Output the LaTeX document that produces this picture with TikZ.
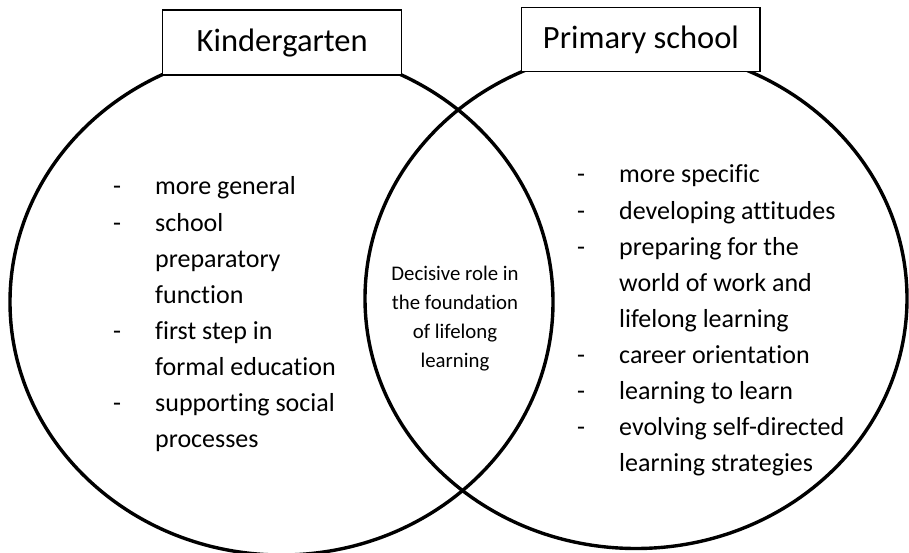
\documentclass[tikz,border=0pt]{standalone}
\usepackage{fontspec}
\setmainfont{Carlito}[Ligatures=NoCommon]
\usetikzlibrary{shapes.geometric}
\begin{document}
\begin{tikzpicture}[x=1pt,y=-1pt,
  ring/.style={draw, line width=3.4pt, ellipse, inner sep=0pt, outer sep=0pt},
  titlebox/.style={draw, fill=white, line width=1.3pt, inner sep=0pt,
    text height=24pt, text depth=5pt, font=\fontsize{32.5}{39}\selectfont},
  item/.style={anchor=base west, inner sep=0pt, font=\fontsize{26}{31}\selectfont},
  midtext/.style={anchor=base, inner sep=0pt, font=\fontsize{20.8}{25}\selectfont}]
\useasboundingbox (0,0) rectangle (909,553);
\node[ring, minimum width=543pt, minimum height=506pt] (kg) at (281.5,302) {};
\node[ring, minimum width=542pt, minimum height=500pt] (ps) at (636,298.5) {};
\node[titlebox, minimum width=239pt, minimum height=65pt] (kgtitle) at (282.2,42.5) {Kindergarten};
\node[titlebox, minimum width=238.3pt, minimum height=64.4pt] (pstitle) at (640.9,39.5) {Primary school};
% left list
\foreach \t [count=\i] in {more general,school,preparatory,function,first step in,formal education,supporting social,processes}
  \node[item] (kgi\i) at (155,{195+36.05*(\i-1)}) {\t};
\foreach \i in {1,2,5,7}
  \node[item] (kgd\i) at (113,{195+36.05*(\i-1)}) {-};
% right list
\foreach \t [count=\i] in {more specific,developing attitudes,preparing for the,world of work and,lifelong learning,career orientation,learning to learn,evolving self-directed,learning strategies}
  \node[item] (psi\i) at (619,{183+36*(\i-1)}) {\t};
\foreach \i in {1,2,3,6,7,8}
  \node[item] (psd\i) at (577,{183+36*(\i-1)}) {-};
% lens text
\foreach \t [count=\i] in {Decisive role in,the foundation,of lifelong,learning}
  \node[midtext] (mid\i) at (455,{280+29.3*(\i-1)}) {\t};
\end{tikzpicture}
\end{document}
